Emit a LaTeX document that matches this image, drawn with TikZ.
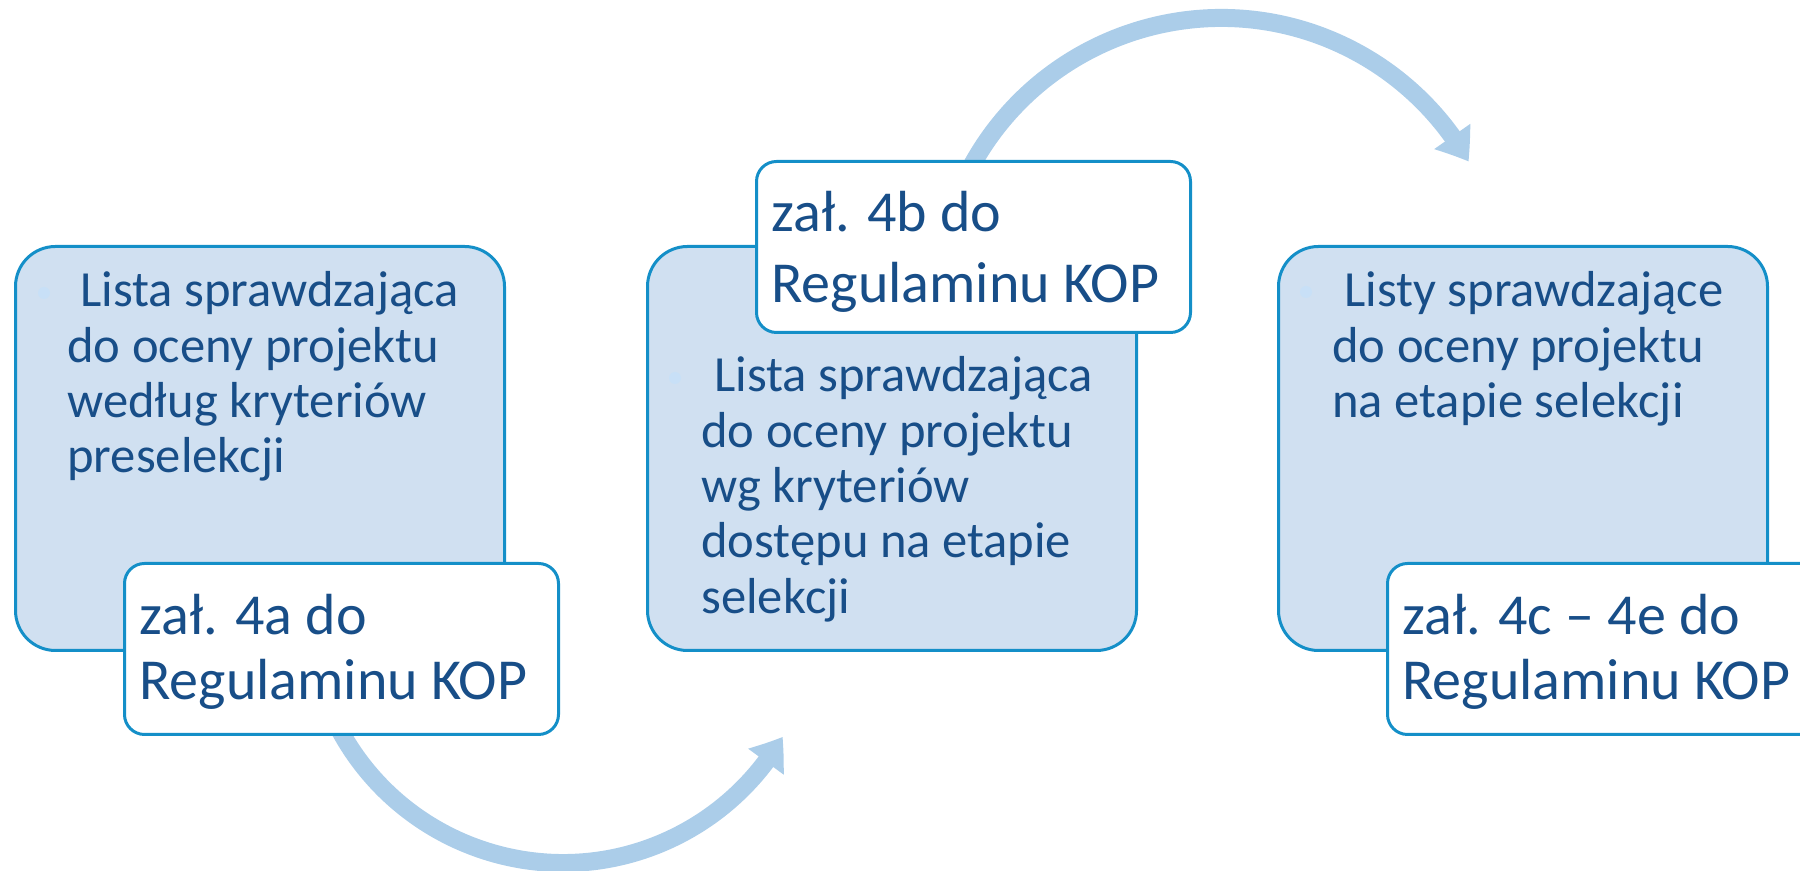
\documentclass[tikz,border=0pt]{standalone}
\usepackage{fontspec}
\setmainfont{Carlito}
\usetikzlibrary{arrows.meta,bending}
\definecolor{arrowblue}{RGB}{171,205,233}
\definecolor{boxblue}{RGB}{208,224,241}
\definecolor{edgeblue}{RGB}{20,143,200}
\definecolor{textblue}{RGB}{24,78,136}
\definecolor{dotblue}{RGB}{200,224,247}
\begin{document}
\begin{tikzpicture}[x=0.5pt,y=0.5pt,
  bluebox/.style={draw=edgeblue,fill=boxblue,line width=1.5pt,rounded corners=20pt,
    minimum width=244.5pt,minimum height=202pt,inner sep=0pt,anchor=south west},
  whitebox/.style={draw=edgeblue,fill=white,line width=1.5pt,rounded corners=10pt,
    minimum width=217pt,minimum height=85.5pt,inner sep=0pt,anchor=south west},
  bigarrow/.style={draw=arrowblue,line width=9pt,-{Triangle[width=21pt,length=15pt,bend]}},
  bluetext/.style={text=textblue,inner sep=0pt,anchor=base west,font=\fontsize{25.3}{27.65}\selectfont},
  whitetext/.style={text=textblue,inner sep=0pt,anchor=base west,font=\fontsize{29}{32.5}\selectfont},
  bulletdot/.style={circle,fill=dotblue,inner sep=0pt,minimum size=6pt}]
\clip (0,0) rectangle (1800,871);
% arrows (behind boxes)
\coordinate (a1s) at ({563+254*cos(207)},{262+254*sin(207)});
\draw[bigarrow] (a1s) arc[start angle=207,end angle=329.8,radius=254];
\coordinate (a2s) at ({1221.2+284.7*cos(152)},{568.3+284.7*sin(152)});
\draw[bigarrow] (a2s) arc[start angle=152,end angle=29.7,radius=284.7];
% blue boxes
\node[bluebox] (b1) at (14,219) {};
\node[bluebox] (b2) at (646,219) {};
\node[bluebox] (b3) at (1277,219) {};
% white boxes
\node[whitebox] (w1) at (123,135) {};
\node[whitebox] (w2) at (755,537) {};
\node[whitebox] (w3) at (1386,135) {};
% bullets
\node[bulletdot] (d1) at (44,578) {};
\node[bulletdot] (d2) at (675,493) {};
\node[bulletdot] (d3) at (1306,579) {};
% texts
\node[bluetext] (t1) at (67,564) {\parbox[t]{250pt}{\hspace*{6.5pt}Lista sprawdzająca\\do oceny projektu\\według kryteriów\\preselekcji}};
\node[bluetext] (t2) at (701,479) {\parbox[t]{250pt}{\hspace*{6.5pt}Lista sprawdzająca\\do oceny projektu\\wg kryteriów\\dostępu na etapie\\selekcji}};
\node[bluetext] (t3) at (1332,564) {\parbox[t]{250pt}{\hspace*{6pt}Listy sprawdzające\\do oceny projektu\\na etapie selekcji}};
\node[whitetext] (u1) at (139,236) {\parbox[t]{220pt}{zał. 4a do\\Regulaminu KOP}};
\node[whitetext,font=\fontsize{29}{35.5}\selectfont] (u2) at (771,639) {\parbox[t]{220pt}{zał. 4b do\\Regulaminu KOP}};
\node[whitetext] (u3) at (1402,236) {\parbox[t]{220pt}{zał. 4c – 4e do\\Regulaminu KOP}};
\end{tikzpicture}
\end{document}
